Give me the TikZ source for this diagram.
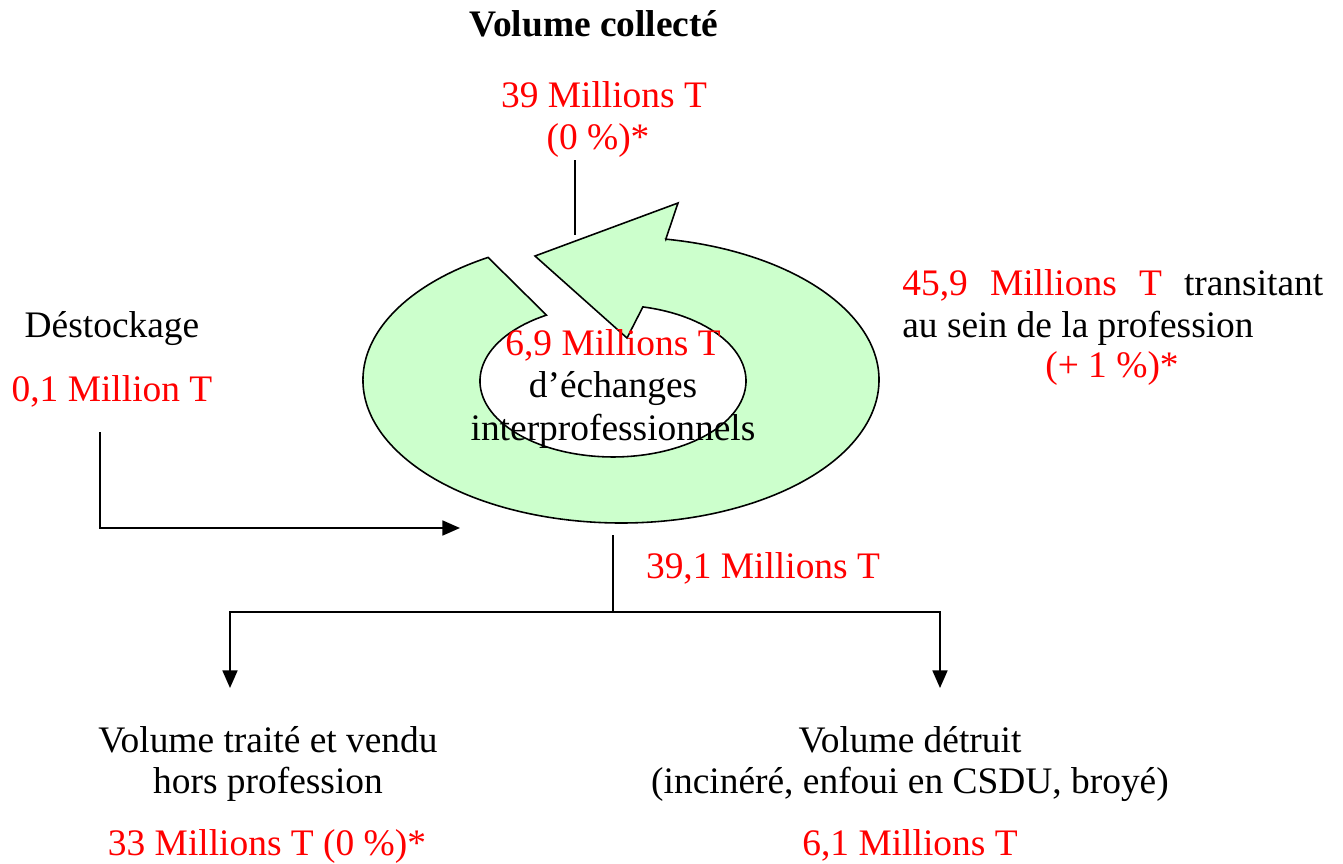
\documentclass[tikz,border=0pt]{standalone}
\usepackage{fontspec}
\setmainfont{Liberation Serif}
\usetikzlibrary{arrows.meta}
\definecolor{ringgreen}{RGB}{204,255,204}
\begin{document}
\begin{tikzpicture}[x=0.02cm,y=-0.02cm,
  every node/.style={font=\fontsize{21.3}{25}\selectfont, inner sep=0pt, anchor=base},
  val/.style={text=red},
  flow/.style={line width=1.1pt},
  tip/.style={-{Triangle[length=10pt,width=8.5pt]}},
  ring/.style={fill=ringgreen, line width=0.9pt}]
\useasboundingbox (0,0) rectangle (1343,863);
%\draw[very thin, gray] (0,0) grid[step=100] (1343,863);
% anneau avec fleche
\filldraw[ring] (665.8,239.2) -- (678,203) -- (535,256) -- (627,338) -- (642.9,306.9)
  arc[start angle=-77, end angle=240, x radius=133, y radius=76] -- (488.1,257.4)
  arc[start angle=239, end angle=-80, x radius=258, y radius=143] -- cycle;
\node[val] (echval) at (613,355) {6,9 Millions T};
\node (ech1) at (613,397) {d’échanges};
\node (ech2) at (613,440) {interprofessionnels};
% collecte
\node[font=\fontsize{21.3}{25}\selectfont\bfseries] (collect) at (594,36) {Volume collecté};
\node[val] (collectval) at (604,107) {39 Millions T};
\node[val] (collectpct) at (598,149) {(0 \%)*};
\coordinate (ctop) at (575,160);
\coordinate (cbot) at (575,235);
\draw[flow] (ctop) -- (cbot);
% profession
\node[anchor=base west] (transit1) at (902,295) {\makebox[8.42cm][s]{\textcolor{red}{45,9 Millions T} transitant}};
\node[anchor=base west] (transit2) at (902,337) {au sein de la profession};
\node[val] (transitpct) at (1112,377) {(+ 1 \%)*};
% destockage
\node (destock) at (112,337) {Déstockage};
\node[val] (destockval) at (112,401) {0,1 Million T};
\coordinate (dtop) at (100,432);
\coordinate (dend) at (460,528);
\draw[flow,tip] (dtop) |- (dend);
% sorties
\coordinate (out) at (613,535);
\coordinate (split) at (613,612);
\coordinate (lhd) at (230,688);
\coordinate (rhd) at (940,688);
\draw[flow] (out) -- (split);
\draw[flow,tip] (split) -| (lhd);
\draw[flow,tip] (split) -| (rhd);
\node[val] (outval) at (763,578) {39,1 Millions T};
\node (sold1) at (268,752) {Volume traité et vendu};
\node (sold2) at (268,793) {hors profession};
\node[val] (soldval) at (267,855) {33 Millions T (0 \%)*};
\node (destr1) at (910,752) {Volume détruit};
\node (destr2) at (910,793) {(incinéré, enfoui en CSDU, broyé)};
\node[val] (destrval) at (910,855) {6,1 Millions T};
\end{tikzpicture}
\end{document}
